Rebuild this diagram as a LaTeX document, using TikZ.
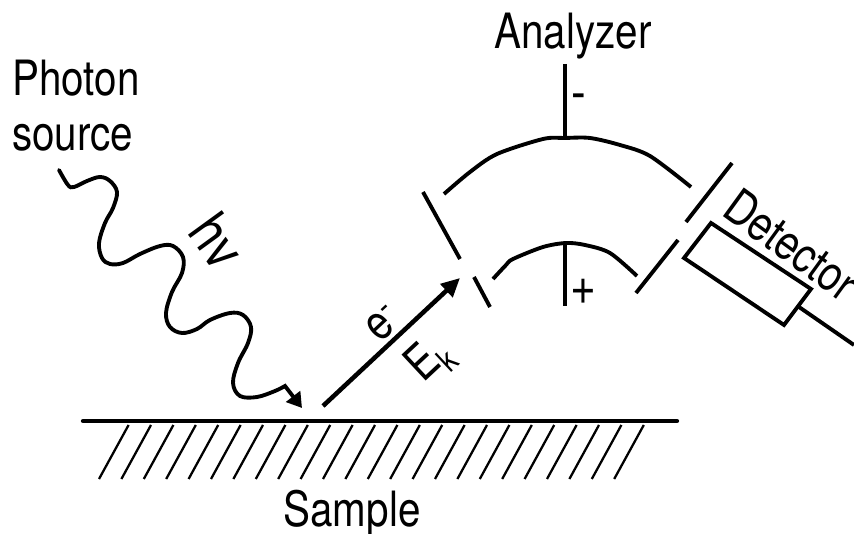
\documentclass[tikz,border=0pt]{standalone}
\usepackage{fontspec}
\setmainfont[FakeStretch=0.83]{TeX Gyre Heros}
\usetikzlibrary{arrows.meta}
\tikzset{
  bigtext/.style={inner sep=0pt, font=\fontsize{36.5}{38}\selectfont},
  signtext/.style={inner sep=0pt, font=\fontsize{40}{42}\selectfont},
  plate/.style={line width=2.9pt},
  hatchline/.style={line width=1.7pt}
}
\begin{document}
\begin{tikzpicture}[x=0.75pt,y=-0.75pt]
\useasboundingbox (0,0) rectangle (854,534);
\node[bigtext, anchor=base west] (photon) at (12,96) {Photon};
\node[bigtext, anchor=base west] (source) at (12,151) {source};
\node[bigtext, anchor=base] (analyzer) at (573,49) {Analyzer};
\node[bigtext, anchor=base] (sample) at (352,527) {Sample};
\node[bigtext, font=\fontsize{43}{45}\selectfont, rotate=-54] (hv) at (218,241) {hv};
\node[bigtext, rotate=43, anchor=base west] (electron) at (380,344) {e\raisebox{10pt}{\fontsize{26}{28}\selectfont -}};
\node[bigtext, rotate=43, anchor=base west] (energy) at (423,384) {E\raisebox{-8pt}{\fontsize{25}{27}\selectfont k}};
\node[bigtext, rotate=-36, anchor=base west] (detector) at (720,214) {Detector};
\node[signtext] (minus) at (579,102) {-};
\node[signtext] (plus) at (583,292) {+};
% sample
\draw[plate, line width=3.2pt, line cap=round] (83,421) to (677,421);
\foreach \i in {0,...,23}
  \draw[hatchline] ({128.6+22.4*\i},425) to ({99+22.4*\i},479);
% photon
\draw[plate, line cap=round, -{Triangle[length=11pt,width=13pt]}] plot[smooth, tension=0.6] coordinates {(59,170) (68,185) (74,187) (87,181) (100,177) (110,181) (117,192) (113,208) (105,223) (99,243) (102,258) (110,264) (123,263) (140,254) (160,246) (173,246) (183,257) (182,273) (172,292) (166,313) (170,327) (182,333) (197,329) (210,320) (230,313) (243,315) (251,327) (248,343) (238,363) (233,383) (240,396) (257,397) (275,391) (285,386)} -- (302,408);
% electron
\draw[line width=3.4pt, -{Triangle[length=14pt,width=13pt]}] (323,406) to (460,278);
% analyzer
\draw[plate] plot[smooth, tension=0.5] coordinates {(444,194) (470,172) (497,154) (543,139) (565,138) (590,138) (620,145) (650,156) (691,187)};
\draw[plate] plot[smooth, tension=0.5] coordinates {(493,279) (506,265) (513,259) (543,247) (566,243) (585,245) (610,253) (637,276)};
\draw[plate] (565,64) to (565,138);
\draw[plate] (565,245) to (565,306);
\draw[plate] (423,192) to (460,259);
\draw[plate] (474,277) to (490,307);
\draw[plate] (732,163) to (686,222);
\draw[plate] (678,240) to (636,293);
% detector
\draw[plate] (711,223) to (811,289) to (784,325) to (684,258) to cycle;
\draw[plate] (799,307) to (854,345);
\end{tikzpicture}
\end{document}
